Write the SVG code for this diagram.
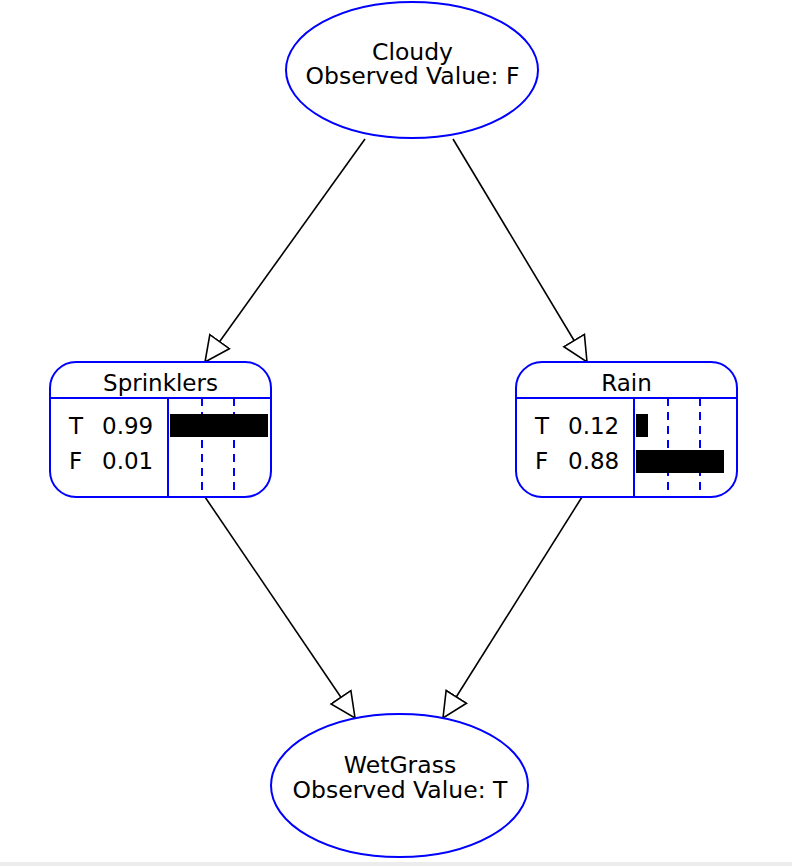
<svg xmlns="http://www.w3.org/2000/svg" width="792" height="866" viewBox="0 0 792 866">
<defs>
<style>
.node{fill:#fff;stroke:#0000ff;stroke-width:2}
.div{stroke:#0000ff;stroke-width:2;fill:none}
.dash{stroke:#0000ff;stroke-width:2;stroke-dasharray:8,6;fill:none}
.bar{fill:#000}
text{font-family:"DejaVu Sans","Liberation Sans",sans-serif;fill:#000;font-size:23px}
.big{font-size:23.5px}
.c{text-anchor:middle}
.edge{stroke:#000;stroke-width:1.6;fill:none;marker-end:url(#arr)}
</style>
<marker id="arr" markerUnits="userSpaceOnUse" markerWidth="30" markerHeight="30" refX="26" refY="13" orient="auto" viewBox="0 0 30 26">
<path d="M1,1 L26,13 L1,25 Z" fill="#fff" stroke="#000" stroke-width="1.6"/>
</marker>
</defs>
<rect x="0" y="0" width="792" height="866" fill="#fff"/>
<rect x="0" y="862" width="792" height="4" fill="#ececec"/>
<g id="edges">
<line class="edge" x1="365" y1="139" x2="205" y2="362"/>
<line class="edge" x1="453" y1="139" x2="587" y2="362"/>
<line class="edge" x1="205" y1="497" x2="355" y2="718"/>
<line class="edge" x1="582" y1="497" x2="443" y2="718"/>
</g>
<g id="cloudy">
<ellipse class="node" cx="412" cy="70" rx="126" ry="68"/>
<text class="c big" x="412.5" y="60">Cloudy</text>
<text class="c big" x="412.5" y="84">Observed Value: F</text>
</g>
<g id="sprinklers">
<rect class="node" x="50" y="362" width="221" height="135" rx="26" ry="26"/>
<line class="div" x1="50" y1="398" x2="271" y2="398"/>
<line class="div" x1="168" y1="398" x2="168" y2="497"/>
<line class="dash" x1="202" y1="398" x2="202" y2="497"/>
<line class="dash" x1="234" y1="398" x2="234" y2="497"/>
<text class="c" x="160.5" y="391">Sprinklers</text>
<text x="69" y="434">T</text><text x="102" y="434">0.99</text>
<text x="69" y="469">F</text><text x="102" y="469">0.01</text>
<rect class="bar" x="170" y="414" width="98" height="23"/>
</g>
<g id="rain">
<rect class="node" x="516" y="362" width="221" height="135" rx="26" ry="26"/>
<line class="div" x1="516" y1="398" x2="737" y2="398"/>
<line class="div" x1="634" y1="398" x2="634" y2="497"/>
<line class="dash" x1="668" y1="398" x2="668" y2="497"/>
<line class="dash" x1="700" y1="398" x2="700" y2="497"/>
<text class="c" x="626.5" y="391">Rain</text>
<text x="535" y="434">T</text><text x="568" y="434">0.12</text>
<text x="535" y="469">F</text><text x="568" y="469">0.88</text>
<rect class="bar" x="636" y="414" width="12" height="23"/>
<rect class="bar" x="636" y="450" width="88" height="23"/>
</g>
<g id="wetgrass">
<ellipse class="node" cx="399.5" cy="785.5" rx="128.5" ry="71.5"/>
<text class="c big" x="400" y="773">WetGrass</text>
<text class="c big" x="400" y="798">Observed Value: T</text>
</g>
</svg>
